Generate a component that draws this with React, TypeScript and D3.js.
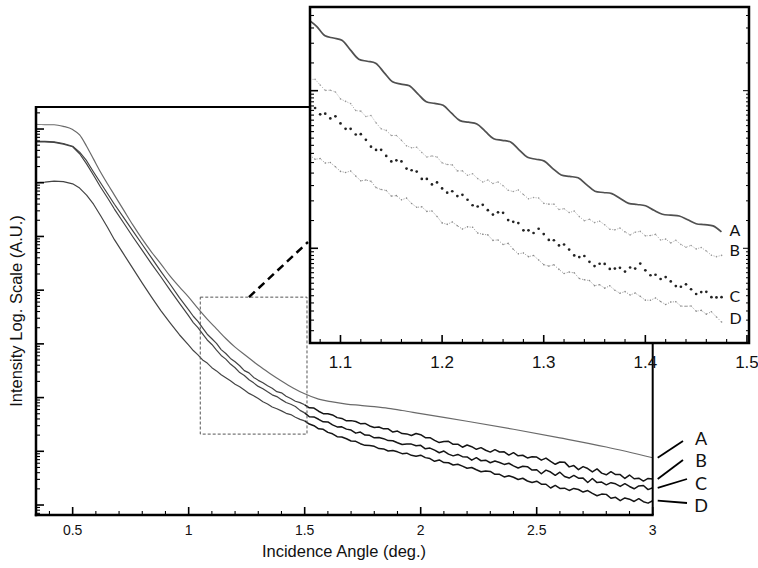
import React from 'react';
import * as d3 from 'd3';

// ---- main panel data: incidence angle (deg.) and log10 intensity (A.U.) ----
const mainAngles = [
  0.34, 0.38, 0.42, 0.46, 0.5, 0.53, 0.56, 0.59, 0.62, 0.65, 0.68, 0.72, 0.76, 0.8, 0.84, 0.88, 0.92, 0.96,
  1.0, 1.02, 1.04, 1.06, 1.08, 1.1, 1.12, 1.14, 1.16, 1.18,
  1.2, 1.22, 1.24, 1.26, 1.28, 1.3, 1.32, 1.34, 1.36, 1.38,
  1.4, 1.42, 1.44, 1.46, 1.48, 1.5, 1.52, 1.54, 1.56, 1.58,
  1.6, 1.62, 1.64, 1.66, 1.68, 1.7, 1.72, 1.74, 1.76, 1.78,
  1.8, 1.82, 1.84, 1.86, 1.88, 1.9, 1.92, 1.94, 1.96, 1.98,
  2.0, 2.02, 2.04, 2.06, 2.08, 2.1, 2.12, 2.14, 2.16, 2.18,
  2.2, 2.22, 2.24, 2.26, 2.28, 2.3, 2.32, 2.34, 2.36, 2.38,
  2.4, 2.42, 2.44, 2.46, 2.48, 2.5, 2.52, 2.54, 2.56, 2.58,
  2.6, 2.62, 2.64, 2.66, 2.68, 2.7, 2.72, 2.74, 2.76, 2.78,
  2.8, 2.82, 2.84, 2.86, 2.88, 2.9, 2.92, 2.94, 2.96, 2.98,
  3.0,
];

const anglesA = [
  0.34, 0.38, 0.42, 0.46, 0.5, 0.53, 0.56, 0.59, 0.62, 0.65, 0.68, 0.72, 0.76, 0.8, 0.84, 0.88, 0.92, 0.96,
  1.0, 1.04, 1.08, 1.12, 1.16, 1.2, 1.25, 1.3, 1.35, 1.4, 1.45, 1.5, 1.56, 1.62, 1.68, 1.74, 1.8, 1.86, 1.92,
  2.0, 2.2, 2.4, 2.6, 2.8, 3.0,
];
const logA = [
  7.09, 7.08, 7.08, 7.05, 6.99, 6.89, 6.68, 6.44, 6.2, 5.98, 5.77, 5.49, 5.21, 4.95, 4.71, 4.49, 4.26, 4.06,
  3.87, 3.66, 3.46, 3.28, 3.1, 2.94, 2.77, 2.6, 2.45, 2.31, 2.18, 2.07, 1.97, 1.92, 1.88, 1.855, 1.83, 1.8, 1.76,
  1.7, 1.56, 1.41, 1.25, 1.08, 0.88,
];

const logB = [
  6.77, 6.77, 6.76, 6.73, 6.68, 6.57, 6.41, 6.2, 6.0, 5.8, 5.6, 5.35, 5.1, 4.85, 4.6, 4.35, 4.11, 3.86,
  3.633, 3.514, 3.418, 3.298, 3.18, 3.095, 3.009, 2.893, 2.821, 2.729,
  2.666, 2.592, 2.502, 2.46, 2.376, 2.321, 2.277, 2.219, 2.174, 2.11,
  2.089, 2.025, 1.982, 1.932, 1.906, 1.866, 1.809, 1.805, 1.746, 1.701,
  1.7, 1.677, 1.627, 1.612, 1.567, 1.571, 1.554, 1.515, 1.519, 1.472,
  1.443, 1.453, 1.418, 1.418, 1.359, 1.377, 1.33, 1.324, 1.295, 1.331,
  1.309, 1.253, 1.253, 1.204, 1.162, 1.184, 1.185, 1.13, 1.133, 1.076,
  1.117, 1.086, 1.037, 1.068, 1.019, 0.985, 1.03, 0.987, 0.991, 0.929,
  0.975, 0.916, 0.926, 0.877, 0.897, 0.893, 0.835, 0.874, 0.811, 0.758,
  0.801, 0.798, 0.71, 0.734, 0.659, 0.715, 0.679, 0.616, 0.672, 0.593,
  0.562, 0.62, 0.566, 0.567, 0.494, 0.558, 0.489, 0.499, 0.446, 0.495,
  0.483,
];

const logC = [
  6.76, 6.76, 6.75, 6.72, 6.67, 6.54, 6.35, 6.14, 5.92, 5.72, 5.51, 5.25, 4.99, 4.74, 4.49, 4.25, 4.0, 3.76,
  3.52, 3.396, 3.302, 3.186, 3.073, 2.989, 2.882, 2.784, 2.716, 2.624,
  2.555, 2.466, 2.411, 2.332, 2.274, 2.208, 2.166, 2.107, 2.051, 2.019,
  1.962, 1.908, 1.876, 1.834, 1.762, 1.715, 1.643, 1.64, 1.596, 1.549,
  1.546, 1.491, 1.454, 1.456, 1.413, 1.395, 1.338, 1.358, 1.303, 1.298,
  1.251, 1.258, 1.235, 1.199, 1.197, 1.16, 1.126, 1.136, 1.134, 1.104,
  1.111, 1.046, 1.06, 1.021, 0.973, 1.005, 0.948, 0.915, 0.942, 0.9,
  0.895, 0.835, 0.881, 0.824, 0.835, 0.787, 0.818, 0.791, 0.756, 0.777,
  0.729, 0.689, 0.722, 0.714, 0.65, 0.656, 0.582, 0.649, 0.614, 0.553,
  0.61, 0.532, 0.502, 0.551, 0.499, 0.501, 0.419, 0.494, 0.417, 0.428,
  0.376, 0.416, 0.395, 0.347, 0.397, 0.345, 0.302, 0.356, 0.364, 0.287,
  0.321,
];

const logD = [
  6.0, 6.01, 6.03, 6.02, 5.98, 5.9, 5.77, 5.6, 5.39, 5.17, 4.94, 4.67, 4.4, 4.13, 3.87, 3.62, 3.39, 3.17,
  2.975, 2.876, 2.796, 2.701, 2.642, 2.557, 2.497, 2.424, 2.37, 2.312,
  2.249, 2.203, 2.14, 2.078, 2.033, 1.981, 1.922, 1.882, 1.825, 1.792,
  1.752, 1.707, 1.684, 1.635, 1.594, 1.566, 1.507, 1.477, 1.418, 1.409,
  1.352, 1.325, 1.273, 1.266, 1.234, 1.192, 1.185, 1.142, 1.111, 1.107,
  1.093, 1.051, 1.045, 1.006, 1.014, 0.99, 0.956, 0.965, 0.925, 0.909,
  0.928, 0.882, 0.865, 0.814, 0.839, 0.79, 0.787, 0.745, 0.758, 0.724,
  0.685, 0.698, 0.657, 0.62, 0.635, 0.625, 0.572, 0.571, 0.522, 0.544,
  0.517, 0.475, 0.498, 0.447, 0.418, 0.443, 0.388, 0.386, 0.317, 0.365,
  0.309, 0.314, 0.271, 0.309, 0.289, 0.241, 0.269, 0.216, 0.172, 0.203,
  0.198, 0.126, 0.143, 0.081, 0.132, 0.109, 0.066, 0.118, 0.061, 0.035,
  0.08,
];

// ---- inset data (zoom of 1.07 - 1.5 deg.) ----
const insetAnglesA = [
  1.07, 1.0765, 1.0848, 1.0931, 1.1014, 1.1097, 1.118, 1.1263, 1.1346, 1.1429,
  1.1512, 1.1595, 1.1678, 1.1761, 1.1844, 1.1927, 1.201, 1.2093, 1.2176, 1.2259,
  1.2342, 1.2425, 1.2508, 1.2591, 1.2674, 1.2757, 1.284, 1.2923, 1.3006, 1.3089,
  1.3172, 1.3255, 1.3338, 1.3421, 1.3504, 1.3587, 1.367, 1.3753, 1.3836, 1.3919,
  1.4002, 1.4085, 1.4168, 1.4251, 1.4334, 1.4417, 1.45, 1.4583, 1.4666, 1.4749,
];
const insetLogA = [
  3.442, 3.408, 3.348, 3.334, 3.32, 3.259, 3.2, 3.187, 3.174, 3.115,
  3.057, 3.042, 3.031, 2.98, 2.93, 2.919, 2.907, 2.857, 2.81, 2.8,
  2.789, 2.742, 2.695, 2.685, 2.674, 2.625, 2.577, 2.565, 2.553, 2.506,
  2.465, 2.456, 2.447, 2.404, 2.362, 2.354, 2.347, 2.316, 2.285, 2.278,
  2.27, 2.241, 2.216, 2.21, 2.205, 2.181, 2.156, 2.15, 2.142, 2.104,
];

const insetAngles = [
  1.07, 1.075, 1.08, 1.085, 1.09, 1.095, 1.1, 1.105, 1.11, 1.115,
  1.12, 1.125, 1.13, 1.135, 1.14, 1.145, 1.15, 1.155, 1.16, 1.165,
  1.17, 1.175, 1.18, 1.185, 1.19, 1.195, 1.2, 1.205, 1.21, 1.215,
  1.22, 1.225, 1.23, 1.235, 1.24, 1.245, 1.25, 1.255, 1.26, 1.265,
  1.27, 1.275, 1.28, 1.285, 1.29, 1.295, 1.3, 1.305, 1.31, 1.315,
  1.32, 1.325, 1.33, 1.335, 1.34, 1.345, 1.35, 1.355, 1.36, 1.365,
  1.37, 1.375, 1.38, 1.385, 1.39, 1.395, 1.4, 1.405, 1.41, 1.415,
  1.42, 1.425, 1.43, 1.435, 1.44, 1.445, 1.45, 1.455, 1.46, 1.465,
  1.47, 1.475,
];
const insetLogB = [
  3.071, 3.072, 3.036, 3.002, 3.003, 2.992, 2.948, 2.932, 2.918, 2.874,
  2.87, 2.836, 2.843, 2.796, 2.758, 2.748, 2.716, 2.716, 2.685, 2.65,
  2.638, 2.641, 2.608, 2.579, 2.586, 2.579, 2.542, 2.532, 2.529, 2.491,
  2.491, 2.463, 2.473, 2.442, 2.421, 2.433, 2.411, 2.421, 2.397, 2.368,
  2.36, 2.37, 2.341, 2.314, 2.322, 2.319, 2.285, 2.28, 2.28, 2.246,
  2.251, 2.227, 2.236, 2.201, 2.175, 2.184, 2.163, 2.172, 2.149, 2.121,
  2.117, 2.128, 2.104, 2.085, 2.102, 2.107, 2.079, 2.081, 2.088, 2.053,
  2.058, 2.034, 2.051, 2.024, 2.007, 2.018, 1.996, 2.005, 1.983, 1.956,
  1.947, 1.955,
];
const insetLogC = [
  2.89, 2.89, 2.85, 2.854, 2.824, 2.837, 2.792, 2.758, 2.758, 2.722,
  2.724, 2.688, 2.645, 2.624, 2.625, 2.586, 2.551, 2.558, 2.551, 2.506,
  2.495, 2.487, 2.44, 2.44, 2.405, 2.418, 2.38, 2.353, 2.362, 2.331,
  2.339, 2.308, 2.273, 2.265, 2.276, 2.242, 2.214, 2.228, 2.225, 2.179,
  2.168, 2.16, 2.114, 2.114, 2.097, 2.124, 2.09, 2.053, 2.051, 2.018,
  2.024, 1.992, 1.955, 1.944, 1.951, 1.914, 1.887, 1.902, 1.901, 1.869,
  1.871, 1.876, 1.852, 1.878, 1.871, 1.903, 1.86, 1.829, 1.832, 1.805,
  1.817, 1.79, 1.76, 1.756, 1.771, 1.74, 1.71, 1.722, 1.724, 1.69,
  1.688, 1.69,
];
const insetLogD = [
  2.589, 2.565, 2.569, 2.541, 2.544, 2.517, 2.488, 2.481, 2.49, 2.458,
  2.428, 2.433, 2.425, 2.385, 2.373, 2.367, 2.331, 2.334, 2.308, 2.318,
  2.284, 2.26, 2.263, 2.234, 2.237, 2.202, 2.161, 2.152, 2.167, 2.143,
  2.122, 2.136, 2.133, 2.097, 2.089, 2.085, 2.05, 2.053, 2.024, 2.031,
  1.994, 1.965, 1.97, 1.947, 1.954, 1.926, 1.896, 1.887, 1.895, 1.866,
  1.84, 1.849, 1.844, 1.808, 1.8, 1.795, 1.763, 1.769, 1.747, 1.762,
  1.734, 1.715, 1.725, 1.704, 1.716, 1.695, 1.671, 1.67, 1.685, 1.662,
  1.643, 1.659, 1.661, 1.633, 1.632, 1.634, 1.601, 1.606, 1.582, 1.597,
  1.564, 1.532,
];

const mainTicks = [0.5, 1, 1.5, 2, 2.5, 3];
const mainTickLabels = ['0.5', '1', '1.5', '2', '2.5', '3'];
const insetTicks = [1.1, 1.2, 1.3, 1.4, 1.5];
const insetTickLabels = ['1.1', '1.2', '1.3', '1.4', '1.5'];
const seriesNames = ['A', 'B', 'C', 'D'];
const zoomBoxAngles = [1.05, 1.51];
const zoomBoxLog = [1.32, 3.87];
const noisyFrom = 1.5; // beyond this angle the traces are drawn heavier (noisy data)

const W = 758;
const H = 568;
const M = { left: 36, right: 652.7, top: 107, bottom: 515 };
const I = { left: 310, right: 749, top: 7, bottom: 343 };
const FONT = '"Liberation Sans", Arial, Helvetica, sans-serif';
const LABEL_FONT = "Lato, 'Open Sans', sans-serif";

const pts = (xs, ls) => xs.map((a, i) => [a, Math.pow(10, ls[i])]);
const near = (v, arr) => arr.some(m => Math.abs(m - v) < 1e-6);
const isDecade = v => Math.abs(Math.log10(v) - Math.round(Math.log10(v))) < 1e-6;

export default function App() {
  const x = d3.scaleLinear().domain([0.342, 3]).range([M.left, M.right]);
  const y = d3.scaleLog().domain([Math.pow(10, -0.186), Math.pow(10, 7.41)]).range([M.bottom, M.top]);
  const xi = d3.scaleLinear().domain([1.07, 1.502]).range([I.left, I.right]);
  const yi = d3.scaleLog().domain([Math.pow(10, 1.399), Math.pow(10, 3.531)]).range([I.bottom, I.top]);

  const lineMain = d3.line().x(d => x(d[0])).y(d => y(d[1]));
  const smoothMain = d3.line().x(d => x(d[0])).y(d => y(d[1])).curve(d3.curveMonotoneX);
  const lineInset = d3.line().x(d => xi(d[0])).y(d => yi(d[1]));
  const smoothInset = d3.line().x(d => xi(d[0])).y(d => yi(d[1])).curve(d3.curveCatmullRom.alpha(0.5));

  const mainSeries = [pts(anglesA, logA), pts(mainAngles, logB), pts(mainAngles, logC), pts(mainAngles, logD)];
  const insetA = pts(insetAnglesA, insetLogA);
  const insetB = pts(insetAngles, insetLogB);
  const insetC = pts(insetAngles, insetLogC);
  const insetD = pts(insetAngles, insetLogD);

  const xMinor = x.ticks(26);
  const yTicks = y.ticks();
  const xiMinor = xi.ticks(22);
  const yiTicks = [];
  const [lo, hi] = yi.domain();
  for (let e = 1; e <= 3; e++) {
    for (let k = 1; k < 10; k += 0.5) {
      const v = k * Math.pow(10, e);
      if (v >= lo && v <= hi) yiTicks.push(v);
    }
  }

  const boxX0 = x(zoomBoxAngles[0]);
  const boxX1 = x(zoomBoxAngles[1]);
  const boxY0 = y(Math.pow(10, zoomBoxLog[1]));
  const boxY1 = y(Math.pow(10, zoomBoxLog[0]));

  // leader lines for the labels on the right of the main panel
  const leaderEnd = [[683, 441], [683, 460], [687, 479], [687, 503]];
  const leaderText = [445, 467, 490, 512];
  const insetEnds = [insetA, insetB, insetC, insetD].map(s => s[s.length - 1]);
  const insetLabelDy = [4, 1, 5, 2];

  return (
    <svg width={W} height={H} style={{ position: 'absolute', left: 0, top: 0, background: '#fff' }}>
      <defs>
        <clipPath id="main-clip">
          <rect x={M.left} y={M.top} width={M.right - M.left} height={M.bottom - M.top} />
        </clipPath>
        <clipPath id="inset-clip">
          <rect x={I.left} y={I.top} width={I.right - I.left} height={I.bottom - I.top} />
        </clipPath>
      </defs>

      {/* main curves */}
      <g clipPath="url(#main-clip)" fill="none" strokeLinejoin="round">
        <path d={smoothMain(mainSeries[0])} stroke="#6a6a6a" strokeWidth={1.2} />
        {mainSeries.slice(1).map((s, i) => (
          <g key={i}>
            <path d={lineMain(s.filter(d => d[0] <= noisyFrom))} stroke="#444" strokeWidth={1.2} />
            <path d={lineMain(s.filter(d => d[0] >= noisyFrom))} stroke="#151515" strokeWidth={1.5} />
          </g>
        ))}
      </g>

      {/* zoom box + connector */}
      <rect x={boxX0} y={boxY0} width={boxX1 - boxX0} height={boxY1 - boxY0}
        fill="none" stroke="#555" strokeWidth={1} strokeDasharray="3,2" />
      <line x1={x(1.26)} y1={boxY0} x2={I.left - 2} y2={yi(Math.pow(10, 2.04))}
        stroke="#000" strokeWidth={2.5} strokeDasharray="8,5" />

      {/* main frame */}
      <line x1={M.left} y1={M.top} x2={M.right} y2={M.top} stroke="#000" strokeWidth={2} />
      <line x1={M.right} y1={M.top} x2={M.right} y2={M.bottom} stroke="#000" strokeWidth={2} />
      <line x1={M.left} y1={M.top - 1} x2={M.left} y2={M.bottom + 1.2} stroke="#000" strokeWidth={2.5} />
      <line x1={M.left - 1.2} y1={M.bottom} x2={M.right + 1} y2={M.bottom} stroke="#000" strokeWidth={2.5} />

      {xMinor.map((t, i) => {
        const major = near(t, mainTicks);
        return <line key={'xm' + i} x1={x(t)} x2={x(t)} y1={M.bottom} y2={M.bottom - (major ? 8 : 4)}
          stroke="#000" strokeWidth={major ? 1.6 : 1.1} />;
      })}
      {yTicks.map((t, i) => {
        const major = isDecade(t);
        return <line key={'ym' + i} x1={M.left} x2={M.left + (major ? 8 : 4)} y1={y(t)} y2={y(t)}
          stroke="#000" strokeWidth={major ? 1.6 : 1.1} />;
      })}
      {mainTicks.map((t, i) => (
        <text key={'xl' + i} x={x(t)} y={535} textAnchor="middle" fontFamily={FONT} fontSize={14} fill="#111">
          {mainTickLabels[i]}
        </text>
      ))}
      <text x={344} y={557} textAnchor="middle" fontFamily={FONT} fontSize={16.5} fill="#111">
        Incidence Angle (deg.)
      </text>
      <text transform="translate(21.5,311) rotate(-90)" textAnchor="middle" fontFamily={FONT} fontSize={16.5} fill="#111">
        Intensity Log. Scale (A.U.)
      </text>

      {/* series labels, main */}
      {seriesNames.map((n, i) => {
        const s = mainSeries[i];
        const last = s[s.length - 1];
        return (
          <g key={'lab' + n}>
            <line x1={M.right + 5} y1={y(last[1])} x2={leaderEnd[i][0]} y2={leaderEnd[i][1]}
              stroke="#000" strokeWidth={1.8} />
            <text x={701} y={leaderText[i]} textAnchor="middle" fontFamily={LABEL_FONT}
              fontSize={18} fill="#111">{n}</text>
          </g>
        );
      })}

      {/* inset */}
      <rect x={I.left} y={I.top} width={I.right - I.left} height={I.bottom - I.top} fill="#fff" />
      <g clipPath="url(#inset-clip)">
        <path d={lineInset(insetB)} fill="none" stroke="#a8a8a8" strokeWidth={1} strokeDasharray="1,1.6" />
        {insetB.map((d, i) => <circle key={'ib' + i} cx={xi(d[0])} cy={yi(d[1])} r={0.8} fill="#9a9a9a" />)}
        <path d={lineInset(insetD)} fill="none" stroke="#9a9a9a" strokeWidth={1} strokeDasharray="1,1.6" />
        {insetD.map((d, i) => <circle key={'id' + i} cx={xi(d[0])} cy={yi(d[1])} r={0.8} fill="#8a8a8a" />)}
        {insetC.map((d, i) => <circle key={'ic' + i} cx={xi(d[0])} cy={yi(d[1])} r={1.35} fill="#222" />)}
        <path d={smoothInset(insetA)} fill="none" stroke="#505050" strokeWidth={1.7} />
      </g>
      <rect x={I.left} y={I.top} width={I.right - I.left} height={I.bottom - I.top} fill="none" stroke="#000" strokeWidth={2.5} />
      {xiMinor.map((t, i) => {
        const major = near(t, insetTicks);
        return <line key={'xi' + i} x1={xi(t)} x2={xi(t)} y1={I.bottom} y2={I.bottom - (major ? 8 : 4)}
          stroke="#000" strokeWidth={major ? 1.6 : 1.1} />;
      })}
      {yiTicks.map((t, i) => {
        const major = isDecade(t);
        return (
          <g key={'yi' + i}>
            <line x1={I.left} x2={I.left + (major ? 8 : 4)} y1={yi(t)} y2={yi(t)} stroke="#000" strokeWidth={major ? 1.6 : 1.1} />
            <line x1={I.right} x2={I.right - (major ? 6 : 3)} y1={yi(t)} y2={yi(t)} stroke="#000" strokeWidth={1} />
          </g>
        );
      })}
      {insetTicks.map((t, i) => (
        <text key={'xil' + i} x={xi(t)} y={368} textAnchor="middle" fontFamily={FONT} fontSize={17} fill="#111">
          {insetTickLabels[i]}
        </text>
      ))}
      {seriesNames.map((n, i) => (
        <text key={'il' + n} x={xi(insetEnds[i][0]) + 8} y={yi(insetEnds[i][1]) + insetLabelDy[i]}
          fontFamily={LABEL_FONT} fontSize={16} fill="#111">{n}</text>
      ))}
    </svg>
  );
}
